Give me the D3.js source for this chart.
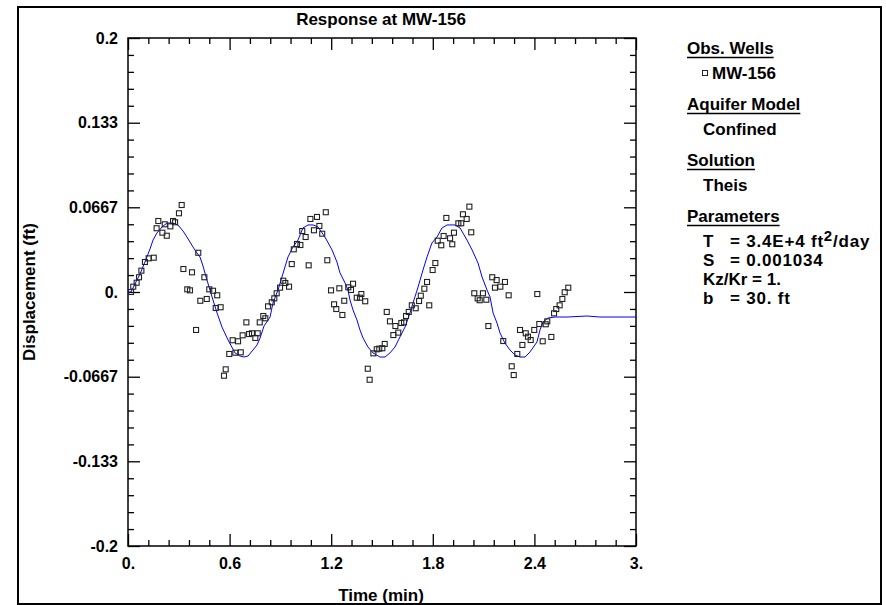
<!DOCTYPE html>
<html>
<head>
<meta charset="utf-8">
<script src="https://cdn.jsdelivr.net/npm/d3@7"></script>
<style>
  html, body { margin: 0; padding: 0; background: #fff; }
  svg text { font-family: "Liberation Sans", Arial, Helvetica, sans-serif; font-weight: bold; fill: #000; }
</style>
</head>
<body>
<svg id="chart" width="886" height="605"></svg>
<script>
// ---- Data ----
const chartTitle = "Response at MW-156";
const xTitle = "Time (min)";
const yTitle = "Displacement (ft)";

const xTickValues = [0, 0.6, 1.2, 1.8, 2.4, 3.0];
const xTickLabels = ["0.", "0.6", "1.2", "1.8", "2.4", "3."];
const yTickValues = [-0.2, -0.1333, -0.0667, 0, 0.0667, 0.1333, 0.2];
const yTickLabels = ["-0.2", "-0.133", "-0.0667", "0.", "0.0667", "0.133", "0.2"];

// observed displacement at MW-156
const obsTime = [0.018,0.031,0.051,0.065,0.079,0.100,0.122,0.152,0.169,0.179,0.203,0.217,0.229,0.250,0.266,0.278,0.301,0.317,0.327,0.350,0.366,0.378,0.402,0.415,0.427,0.451,0.465,0.480,0.502,0.518,0.527,0.547,0.567,0.577,0.598,0.618,0.634,0.650,0.666,0.677,0.699,0.715,0.732,0.752,0.766,0.778,0.799,0.811,0.827,0.849,0.864,0.878,0.898,0.917,0.929,0.951,0.967,0.979,0.998,1.018,1.029,1.049,1.067,1.077,1.098,1.116,1.130,1.147,1.168,1.177,1.199,1.217,1.230,1.248,1.266,1.277,1.301,1.317,1.329,1.351,1.370,1.378,1.401,1.416,1.427,1.449,1.469,1.484,1.502,1.516,1.528,1.547,1.567,1.579,1.596,1.614,1.630,1.642,1.658,1.676,1.699,1.719,1.729,1.750,1.766,1.779,1.799,1.815,1.829,1.850,1.864,1.880,1.902,1.915,1.925,1.951,1.968,1.978,2.000,2.016,2.027,2.045,2.065,2.077,2.096,2.116,2.128,2.151,2.167,2.177,2.199,2.216,2.226,2.248,2.266,2.278,2.299,2.315,2.329,2.349,2.362,2.378,2.399,2.417,2.429,2.449,2.467,2.476,2.500,2.516,2.529,2.549,2.565,2.579,2.600];
const obsDisp = [0.0000,0.0042,0.0073,0.0116,0.0168,0.0236,0.0265,0.0270,0.0502,0.0559,0.0467,0.0533,0.0443,0.0517,0.0559,0.0549,0.0620,0.0685,0.0181,0.0021,0.0013,0.0155,-0.0299,0.0309,-0.0069,0.0116,-0.0055,0.0021,0.0010,-0.0126,-0.0026,-0.0120,-0.0659,-0.0609,-0.0488,-0.0380,-0.0478,-0.0388,-0.0475,-0.0341,-0.0239,-0.0331,-0.0325,-0.0362,-0.0325,-0.0239,-0.0189,-0.0207,-0.0113,-0.0081,-0.0050,-0.0010,0.0034,0.0089,0.0071,0.0042,0.0220,0.0336,0.0378,0.0370,0.0480,0.0433,0.0210,0.0575,0.0486,0.0591,0.0520,0.0459,0.0628,0.0250,0.0013,-0.0097,-0.0134,0.0029,-0.0181,-0.0069,0.0037,0.0016,0.0065,-0.0045,-0.0045,-0.0016,-0.0073,-0.0604,-0.0691,-0.0483,-0.0451,-0.0446,-0.0443,-0.0409,-0.0157,-0.0231,-0.0339,-0.0268,-0.0320,-0.0244,-0.0239,-0.0189,-0.0157,-0.0105,-0.0128,-0.0071,-0.0029,0.0026,0.0079,-0.0105,0.0173,0.0228,0.0404,0.0368,0.0441,0.0583,0.0423,0.0376,0.0467,0.0541,0.0541,0.0612,0.0575,0.0672,0.0470,-0.0010,-0.0050,-0.0065,-0.0010,-0.0061,-0.0268,0.0116,0.0034,0.0094,0.0042,-0.0386,0.0079,-0.0026,-0.0585,-0.0654,-0.0488,-0.0299,-0.0417,-0.0325,-0.0352,-0.0378,-0.0299,-0.0016,-0.0252,-0.0388,-0.0254,-0.0231,-0.0354,-0.0168,-0.0134,-0.0105,-0.0055,-0.0002,0.0034];

// Theis solution curve
const fitTime = [0,0.018,0.041,0.071,0.100,0.130,0.148,0.171,0.201,0.230,0.266,0.295,0.325,0.348,0.384,0.407,0.425,0.443,0.461,0.484,0.502,0.526,0.555,0.591,0.632,0.661,0.685,0.709,0.738,0.762,0.780,0.803,0.839,0.856,0.886,0.927,0.945,0.974,1.004,1.033,1.063,1.093,1.122,1.163,1.205,1.234,1.252,1.282,1.299,1.311,1.329,1.352,1.370,1.388,1.417,1.447,1.488,1.518,1.547,1.577,1.606,1.636,1.665,1.683,1.713,1.742,1.766,1.795,1.825,1.854,1.884,1.931,1.961,2.002,2.032,2.067,2.091,2.120,2.138,2.156,2.179,2.197,2.226,2.256,2.285,2.315,2.345,2.374,2.415,2.433,2.451,2.480,2.522,2.593,2.711,2.787,3.000];
const fitDisp = [0,0.0000,0.0063,0.0142,0.0236,0.0339,0.0409,0.0465,0.0512,0.0543,0.0543,0.0528,0.0480,0.0433,0.0354,0.0307,0.0276,0.0205,0.0118,0.0016,-0.0063,-0.0165,-0.0276,-0.0378,-0.0480,-0.0504,-0.0512,-0.0504,-0.0457,-0.0417,-0.0362,-0.0268,-0.0197,-0.0087,0.0016,0.0197,0.0276,0.0354,0.0409,0.0504,0.0528,0.0528,0.0512,0.0433,0.0331,0.0236,0.0150,0.0071,0.0016,-0.0063,-0.0142,-0.0220,-0.0299,-0.0362,-0.0433,-0.0480,-0.0512,-0.0512,-0.0480,-0.0433,-0.0354,-0.0276,-0.0165,-0.0087,0.0039,0.0173,0.0276,0.0386,0.0433,0.0504,0.0528,0.0528,0.0504,0.0409,0.0331,0.0228,0.0118,0.0016,-0.0039,-0.0165,-0.0244,-0.0323,-0.0402,-0.0457,-0.0496,-0.0512,-0.0512,-0.0472,-0.0394,-0.0299,-0.0236,-0.0205,-0.0197,-0.0197,-0.0189,-0.0197,-0.0197];

// legend text
const legendWell = "MW-156";
const legendModel = "Confined";
const legendSolution = "Theis";
const paramNames = ["T", "S", "b"];
const paramValues = ["= 3.4E+4 ft", "= 0.001034", "= 30. ft"];
const kzkrText = "Kz/Kr = 1.";

// ---- Drawing ----
const svg = d3.select("#chart");
const L = 128, R = 636, T = 38, B = 546;

const x = d3.scaleLinear().domain([0, 3]).range([L, R]);
const y = d3.scaleLinear().domain([-0.2, 0.2]).range([B, T]);

// outer frame
svg.append("rect").attr("x", 18).attr("y", 7).attr("width", 863).attr("height", 597)
  .attr("fill", "none").attr("stroke", "#000").attr("stroke-width", 2);

// title
svg.append("text").attr("x", 381).attr("y", 25).attr("text-anchor", "middle")
  .style("font-size", "17px").text(chartTitle);

const xMinor = d3.range(0, 25).map(i => i * 0.12).filter(v => Math.abs((v / 0.6) - Math.round(v / 0.6)) > 1e-6);
const yMinor = d3.range(0, 31).map(i => -0.2 + i * 0.4 / 30).filter((v, i) => i % 5 !== 0);

function styleAxis(g) {
  g.select(".domain").remove();
  g.selectAll(".tick line").attr("stroke", "#000").attr("stroke-width", 1.3);
  g.selectAll(".tick text").style("font-size", "16px").style("font-family", "'Liberation Sans', Arial, sans-serif").style("font-weight", "bold").attr("fill", "#000");
}

// bottom
svg.append("g").attr("transform", `translate(0,${B})`)
  .call(d3.axisBottom(x).tickValues(xTickValues).tickFormat((d, i) => xTickLabels[i]).tickSizeInner(-12).tickSizeOuter(0).tickPadding(12))
  .call(styleAxis);
svg.append("g").attr("transform", `translate(0,${B})`)
  .call(d3.axisBottom(x).tickValues(xMinor).tickFormat("").tickSizeInner(-6).tickSizeOuter(0))
  .call(styleAxis);
// top
svg.append("g").attr("transform", `translate(0,${T})`)
  .call(d3.axisTop(x).tickValues(xTickValues).tickFormat("").tickSizeInner(-12).tickSizeOuter(0))
  .call(styleAxis);
svg.append("g").attr("transform", `translate(0,${T})`)
  .call(d3.axisTop(x).tickValues(xMinor).tickFormat("").tickSizeInner(-6).tickSizeOuter(0))
  .call(styleAxis);
// left
svg.append("g").attr("transform", `translate(${L},0)`)
  .call(d3.axisLeft(y).tickValues(yTickValues).tickFormat((d, i) => yTickLabels[i]).tickSizeInner(-12).tickSizeOuter(0).tickPadding(10))
  .call(styleAxis);
svg.append("g").attr("transform", `translate(${L},0)`)
  .call(d3.axisLeft(y).tickValues(yMinor).tickFormat("").tickSizeInner(-6).tickSizeOuter(0))
  .call(styleAxis);
// right
svg.append("g").attr("transform", `translate(${R},0)`)
  .call(d3.axisRight(y).tickValues(yTickValues).tickFormat("").tickSizeInner(-12).tickSizeOuter(0))
  .call(styleAxis);
svg.append("g").attr("transform", `translate(${R},0)`)
  .call(d3.axisRight(y).tickValues(yMinor).tickFormat("").tickSizeInner(-6).tickSizeOuter(0))
  .call(styleAxis);

// plot frame
svg.append("rect").attr("x", L).attr("y", T).attr("width", R - L).attr("height", B - T)
  .attr("fill", "none").attr("stroke", "#000").attr("stroke-width", 1.5);

// axis titles
svg.append("text").attr("x", 381).attr("y", 601).attr("text-anchor", "middle")
  .style("font-size", "17px").text(xTitle);
svg.append("text").attr("transform", `translate(35,${(T + B) / 2}) rotate(-90)`).attr("text-anchor", "middle")
  .style("font-size", "17px").text(yTitle);

// fit curve
const fitData = fitTime.map((t, i) => [t, fitDisp[i]]);
svg.append("path").datum(fitData)
  .attr("fill", "none").attr("stroke", "#0000ff").attr("stroke-width", 1)
  .attr("d", d3.line().x(d => x(d[0])).y(d => y(d[1])));

// observations
const s = 5;
svg.append("g").selectAll("rect").data(obsTime.map((t, i) => [t, obsDisp[i]])).join("rect")
  .attr("x", d => x(d[0]) - s / 2).attr("y", d => y(d[1]) - s / 2)
  .attr("width", s).attr("height", s)
  .attr("fill", "none").attr("stroke", "#222").attr("stroke-width", 1.1);

// legend
const lg = svg.append("g");
function heading(txt, yy) {
  const t = lg.append("text").attr("x", 687).attr("y", yy).style("font-size", "17px").text(txt);
  const w = t.node().getComputedTextLength();
  lg.append("line").attr("x1", 687).attr("x2", 687 + w).attr("y1", yy + 3.5).attr("y2", yy + 3.5)
    .attr("stroke", "#000").attr("stroke-width", 1.3);
}
heading("Obs. Wells", 54);
lg.append("rect").attr("x", 702.5).attr("y", 70.5).attr("width", 5).attr("height", 5)
  .attr("fill", "none").attr("stroke", "#222").attr("stroke-width", 1);
lg.append("text").attr("x", 712).attr("y", 79).style("font-size", "17px").text(legendWell);
heading("Aquifer Model", 110);
lg.append("text").attr("x", 703).attr("y", 135).style("font-size", "17px").text(legendModel);
heading("Solution", 166);
lg.append("text").attr("x", 703).attr("y", 191).style("font-size", "17px").text(legendSolution);
heading("Parameters", 222);

const paramY = [247, 266, 304];
paramNames.forEach((n, i) => {
  lg.append("text").attr("x", 703).attr("y", paramY[i]).style("font-size", "17px").text(n);
  const t = lg.append("text").attr("x", 730).attr("y", paramY[i]).style("font-size", "17px")
    .style("letter-spacing", "0.8px");
  t.append("tspan").text(paramValues[i]);
  if (i === 0) {
    t.append("tspan").attr("dy", -6).style("font-size", "15px").text("2");
    t.append("tspan").attr("dy", 6).text("/day");
  }
});
lg.append("text").attr("x", 703).attr("y", 285).style("font-size", "17px").text(kzkrText);
</script>
</body>
</html>
